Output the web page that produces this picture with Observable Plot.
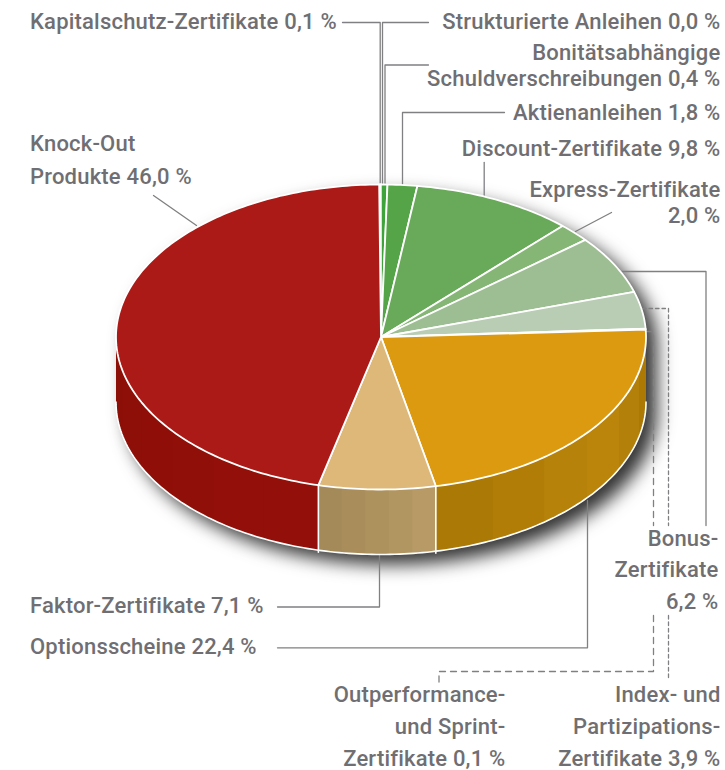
<!DOCTYPE html>
<html><head><meta charset="utf-8">
<script src="https://cdn.jsdelivr.net/npm/d3@7"></script>
<script src="https://cdn.jsdelivr.net/npm/@observablehq/plot@0.6"></script>
<style>html,body{margin:0;padding:0;background:#fff}svg{display:block}</style>
</head><body><div id="chart"></div>
<script>
// Data, clockwise from the top of the pie
const names  = ["Kapitalschutz-Zertifikate","Strukturierte Anleihen","Bonitätsabhängige Schuldverschreibungen","Aktienanleihen","Discount-Zertifikate","Express-Zertifikate","Bonus-Zertifikate","Index- und Partizipations-Zertifikate","Outperformance- und Sprint-Zertifikate","Optionsscheine","Faktor-Zertifikate","Knock-Out Produkte"];
const shares = [0.1,0.0,0.4,1.8,9.8,2.0,6.2,3.9,0.1,22.4,7.1,46.0];
const topColors = ["#ffffff","#ffffff","#3fa33c","#55a548","#69a95a","#85b676","#9dbe92","#b8cdb4","#eef2ea","#db9a10","#ddb878","#ab1a16"];
const sideRamps = {9:["#ab7904","#b3800a","#bc870a","#b7820a","#b17c07","#ab7905"],10:["#b89a66","#b0955f","#ab8f5c","#a38a58"],11:["#93100a","#8c0f07"]};
const sideBands = {9:6,10:5,11:6};

// Label layout: text, x, baseline y
const labelText = ["Kapitalschutz-Zertifikate 0,1 %","Strukturierte Anleihen 0,0 %","Bonitätsabhängige","Schuldverschreibungen 0,4 %","Aktienanleihen 1,8 %","Discount-Zertifikate 9,8 %","Express-Zertifikate","2,0 %","Knock-Out","Produkte 46,0 %","Bonus-","Zertifikate","6,2 %","Faktor-Zertifikate 7,1 %","Optionsscheine 22,4 %","Outperformance-","und Sprint-","Zertifikate 0,1 %","Index- und","Partizipations-","Zertifikate 3,9 %"];
const labelX = [29.5,720,720,720,720,720,720,720,29.5,29.5,718,718,718,29.5,29.5,505,505,505,720,720,720];
const labelY = [29,29,60,86,120.5,156.5,197,223,151,184,546,577,609,613,654,702,734,766,702,734,766];
const labels = labelText.map((text, i) => ({text, x: labelX[i], y: labelY[i]}));

// Leader lines (annotation layout)
const solidLeaders = [
  [[342,22],[379.7,22],[379.7,184]],
  [[428,22],[382,22],[382,184]],
  [[428,64.5],[384.5,64.5],[384.5,184]],
  [[504,112],[402,112],[402,185]],
  [[483.7,162],[483.7,195]],
  [[611,212],[575,231]],
  [[153,195],[196,225]],
  [[620,271],[705.5,271],[705.5,525]],
  [[277,606.5],[379,606.5],[379,550]],
  [[277,647.3],[587,647.3],[587,500]]
];
const dashedLeaders = [
  {pts:[[642,308],[668,308],[668,525]],dash:"3.5 3"},
  {pts:[[668,615],[668,678]],dash:"3.5 3"},
  {pts:[[646,331],[653,331],[653,525]],dash:"6 5"},
  {pts:[[653,615],[653,671],[438.5,671],[438.5,684]],dash:"6 5"}
];

// Pie geometry
const cx = 380.5, cy = 336.5, rx = 265, ry = 152.5, depth = 65, startAngle = -0.4;
const total = d3.sum(shares);
const pt = (deg, dy = 0) => { const t = deg * Math.PI / 180; return {x: cx + rx * Math.sin(t), y: cy - ry * Math.cos(t) + dy}; };
let acc = 0;
const arcs = shares.map((v, i) => { const a0 = startAngle + acc / total * 360; acc += v; return {i, a0, a1: startAngle + acc / total * 360}; });

const topPts = [];
for (const {i, a0, a1} of arcs) {
  const id = names[i], color = topColors[i], row = p => ({...p, id, color});
  const steps = Math.max(1, Math.ceil(a1 - a0));
  topPts.push(row({x: cx, y: cy}));
  for (let s = 0; s <= steps; s++) topPts.push(row(pt(a0 + (a1 - a0) * s / steps)));
  topPts.push(row({x: cx, y: cy}));
}

// Front wall, in narrow facets, shaded along the arc; each facet runs slightly under the next
const sidePts = [], rimPts = [], edgePts = [];
for (const {i, a0, a1} of arcs) {
  if (!sideRamps[i]) continue;
  const from = Math.max(a0, 90), to = Math.min(a1, 270);
  const ramp = d3.interpolateRgbBasis(sideRamps[i]);
  const n = sideBands[i];
  for (let b = 0; b < n; b++) {
    const s0 = from + (to - from) * b / n, s1 = Math.min(to, from + (to - from) * (b + 1) / n + 0.6);
    const id = names[i] + b, color = ramp(b / (n - 1));
    const ring = [];
    for (let k = 0; k <= 6; k++) ring.push(pt(s0 + (s1 - s0) * k / 6));
    for (let k = 6; k >= 0; k--) ring.push(pt(s0 + (s1 - s0) * k / 6, depth));
    ring.forEach(p => sidePts.push({...p, id, color}));
  }
}
for (let a = 90; a <= 270; a += 1) rimPts.push(pt(a, depth));
arcs.filter(d => sideRamps[d.i] && d.a0 > 90).forEach(d => {
  const p = pt(d.a0);
  edgePts.push({...p, id: d.i}, {x: p.x, y: p.y + depth + 2, id: d.i});
});
const outline = [];
for (let a = 0; a <= 360; a += 1) { const dy = a > 90 && a < 270 ? depth : 0; outline.push(pt(a, dy)); }

const flat = list => list.flatMap((pts, id) => pts.map(([x, y]) => ({x, y, id})));
const textOpts = {x: "x", y: "y", text: "text", fontSize: 22, fontWeight: 500, fill: "#6f6f73", lineAnchor: "middle", dy: -8};

const plot = Plot.plot({
  width: 725, height: 770,
  margin: 0,
  x: {domain: [0, 725], range: [0, 725], axis: null},
  y: {domain: [0, 770], range: [0, 770], axis: null},
  color: {type: "identity"},
  style: {background: "#fff", fontFamily: "Roboto, sans-serif", letterSpacing: "0.2px"},
  marks: [
    Plot.line(outline, {x: "x", y: "y", fill: "#fff", stroke: "none", imageFilter: "drop-shadow(11px 10px 9px rgba(0,0,0,0.8))"}),
    Plot.line(flat(solidLeaders), {x: "x", y: "y", z: "id", stroke: "#808082", strokeWidth: 1.3, curve: "linear"}),
    ...dashedLeaders.map(d => Plot.line(d.pts.map(([x, y]) => ({x, y})), {x: "x", y: "y", stroke: "#808082", strokeWidth: 1.3, strokeDasharray: d.dash})),
    Plot.line(sidePts, {x: "x", y: "y", z: "id", fill: "color", stroke: "none"}),
    Plot.line(rimPts, {x: "x", y: "y", stroke: "#fff", strokeWidth: 1.6}),
    Plot.line(edgePts, {x: "x", y: "y", z: "id", stroke: "#fff", strokeWidth: 1.6}),
    Plot.line(topPts, {x: "x", y: "y", z: "id", fill: "color", stroke: "#fff", strokeWidth: 1.8, strokeLinejoin: "round"}),
    Plot.text(labels.filter(d => d.x < 100), {...textOpts, textAnchor: "start"}),
    Plot.text(labels.filter(d => d.x >= 100), {...textOpts, textAnchor: "end"})
  ]
});
document.getElementById("chart").append(plot);
</script></body></html>
